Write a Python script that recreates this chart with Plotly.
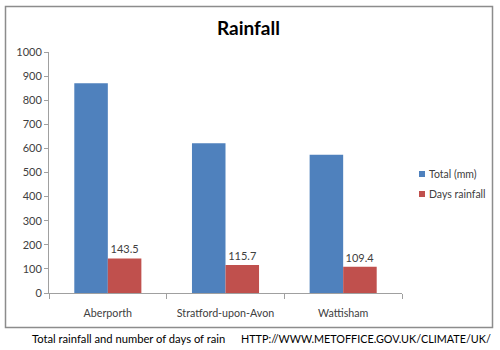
import plotly.graph_objects as go

categories = ["Aberporth", "Stratford-upon-Avon", "Wattisham"]
total_mm = [870, 621, 574]
days_rainfall = [143.5, 115.7, 109.4]
y_ticks = [0, 100, 200, 300, 400, 500, 600, 700, 800, 900, 1000]
series_names = ["Total (mm)", "Days rainfall"]
series_colors = ["#4F81BD", "#C0504D"]

W, H = 500, 350
FONT = "Lato"

fig = go.Figure()
fig.add_trace(go.Bar(x=categories, y=total_mm, name=series_names[0],
                     marker=dict(color=series_colors[0], line=dict(width=0))))
fig.add_trace(go.Bar(x=categories, y=days_rainfall, name=series_names[1],
                     marker=dict(color=series_colors[1], line=dict(width=0)),
                     text=[str(v) for v in days_rainfall], textposition="outside",
                     textfont=dict(size=11, color="#404040", family=FONT),
                     cliponaxis=False))

shapes = [dict(type="rect", xref="paper", yref="paper",
               x0=5.5 / W, x1=492.5 / W, y0=1 - 327.5 / H, y1=1 - 6.5 / H,
               line=dict(color="#8C8C8C", width=1.5), fillcolor="rgba(0,0,0,0)",
               layer="below")]
annotations = [
    dict(text="<b>Rainfall</b>", x=248 / W, y=1 - 28 / H, xref="paper", yref="paper",
         xanchor="center", yanchor="middle",
         showarrow=False, font=dict(size=19, color="#000000", family=FONT)),
    dict(text="Total rainfall and number of days of rain", x=30 / W, y=1 - 338 / H,
         xref="paper", yref="paper", xanchor="left", yanchor="middle", showarrow=False,
         font=dict(size=11.2, color="#000000", family=FONT)),
    dict(text="HTTP://WWW.METOFFICE.GOV.UK/CLIMATE/UK/", x=493 / W, y=1 - 338 / H,
         xref="paper", yref="paper", xanchor="right", yanchor="middle", showarrow=False,
         font=dict(size=10.8, color="#000000", family=FONT)),
]
for i, (nm, col) in enumerate(zip(series_names, series_colors)):
    cy = 174 + 20 * i
    shapes.append(dict(type="rect", xref="paper", yref="paper",
                       x0=419 / W, x1=425 / W, y0=1 - (cy + 3) / H, y1=1 - (cy - 3) / H,
                       line=dict(width=0), fillcolor=col))
    annotations.append(dict(text=nm, x=427 / W, y=1 - cy / H, xref="paper", yref="paper",
                            xanchor="left", yanchor="middle", showarrow=False,
                            font=dict(size=10.5, color="#404040", family=FONT)))

fig.update_layout(
    width=W, height=H,
    margin=dict(l=0, r=0, t=0, b=0),
    paper_bgcolor="white", plot_bgcolor="white",
    barmode="group", bargap=0.43, bargroupgap=0,
    font=dict(family=FONT, size=11, color="#404040"),
    showlegend=False,
    xaxis=dict(domain=[49 / W, 402 / W], showgrid=False, showline=True,
               linecolor="#A0A0A0", linewidth=1, ticks="outside", ticklen=5,
               tickcolor="#A0A0A0", tickson="boundaries", tickangle=0,
               automargin=False, fixedrange=True, ticklabelstandoff=10,
               tickfont=dict(size=10.7, color="#404040")),
    yaxis=dict(domain=[1 - 293 / H, 1 - 52 / H], range=[0, 1000],
               tickvals=y_ticks, showgrid=False, showline=True,
               linecolor="#A0A0A0", linewidth=1, ticks="outside", ticklen=4,
               tickcolor="#A0A0A0", zeroline=False, automargin=False,
               tickfont=dict(size=11, color="#404040")),
    shapes=shapes,
    annotations=annotations,
)

fig.write_html("out.html")
